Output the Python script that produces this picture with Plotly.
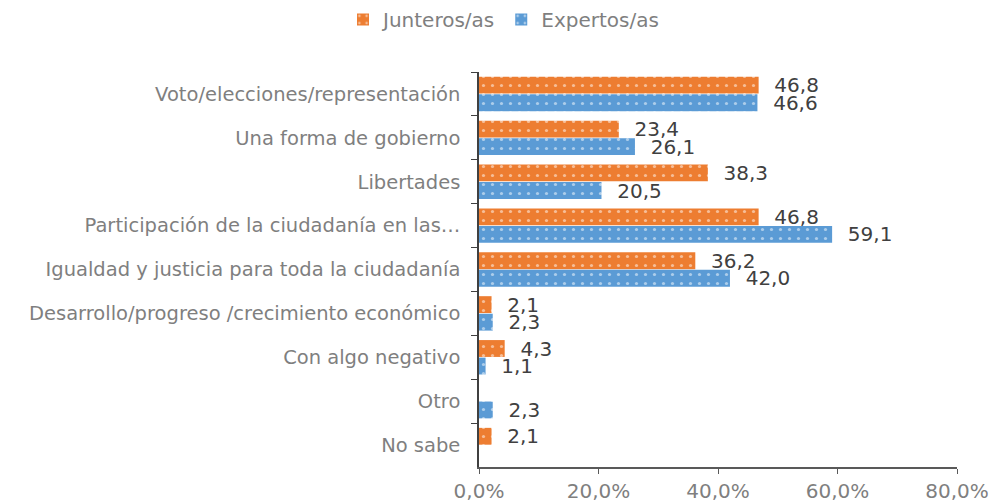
import plotly.graph_objects as go

categories = [
    "Voto/elecciones/representación",
    "Una forma de gobierno",
    "Libertades",
    "Participación de la ciudadanía en las…",
    "Igualdad y justicia para toda la ciudadanía",
    "Desarrollo/progreso /crecimiento económico",
    "Con algo negativo",
    "Otro",
    "No sabe",
]
junteros = [46.8, 23.4, 38.3, 46.8, 36.2, 2.1, 4.3, None, 2.1]
expertos = [46.6, 26.1, 20.5, 59.1, 42.0, 2.3, 1.1, 2.3, None]
series_names = ["Junteros/as", "Expertos/as"]
tick_vals = [0, 20, 40, 60, 80]
tick_text = ["0,0%", "20,0%", "40,0%", "60,0%", "80,0%"]

colors = ["#ED7D31", "#5B9BD5"]
FONT = "Verdana, DejaVu Sans, sans-serif"

def fmt(v):
    return "" if v is None else "  " + f"{v:.1f}".replace(".", ",")

fig = go.Figure()
for name, vals, col in zip(series_names, [junteros, expertos], colors):
    fig.add_trace(go.Bar(
        y=categories, x=vals, name=name, orientation="h",
        marker=dict(color=col,
                    line=dict(width=0),
                    pattern=dict(shape=".", fgcolor="white", bgcolor=col,
                                 size=9, solidity=0.1, fillmode="overlay")),
        text=[fmt(v) for v in vals], textposition="outside",
        constraintext="none",
        textfont=dict(family=FONT, size=20, color="#404040"),
        cliponaxis=False,
    ))

fig.update_layout(
    width=991, height=503,
    margin=dict(l=479, r=34, t=72, b=36, autoexpand=False),
    paper_bgcolor="white", plot_bgcolor="white",
    barmode="group", bargap=0.2, bargroupgap=0.04,
    font=dict(family=FONT, color="#7F7F7F"),
    legend=dict(orientation="h", xref="container", yref="container",
                x=343 / 991, xanchor="left", y=1.0, yanchor="top",
                font=dict(family=FONT, size=20, color="#7F7F7F"),
                itemwidth=30, traceorder="normal"),
    xaxis=dict(range=[0, 80], tickvals=tick_vals, ticktext=tick_text,
               showgrid=False, zeroline=False, showline=True, automargin=False,
               linecolor="#595959", linewidth=1.5, ticks="outside",
               ticklen=5, tickcolor="#595959",
               tickfont=dict(family=FONT, size=20, color="#7F7F7F")),
    yaxis=dict(autorange="reversed", showgrid=False, showline=True, automargin=False,
               linecolor="#404040", linewidth=1.5, ticks="outside",
               tickson="boundaries", ticklen=6, tickcolor="#404040",
               ticklabelstandoff=13,
               tickfont=dict(family=FONT, size=19.5, color="#7F7F7F")),
)

fig.write_html("out.html", config={"displayModeBar": False},
               post_script="document.body.style.margin='0';document.body.style.overflow='hidden';")
